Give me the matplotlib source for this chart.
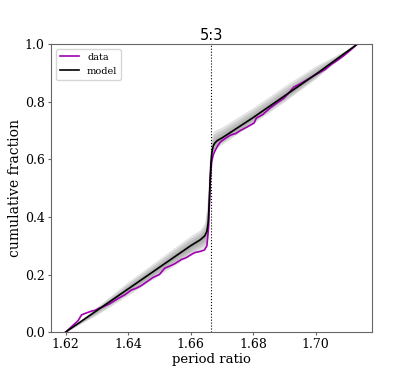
import numpy as np
import matplotlib.pyplot as plt

# data: observed cumulative distribution of period ratios
data_x = [1.6200, 1.6225, 1.6240, 1.6251, 1.6265, 1.6283, 1.6295, 1.6305, 1.6320,
          1.6340, 1.6355, 1.6370, 1.6390, 1.6410, 1.6425, 1.6440, 1.6460, 1.6480,
          1.6500, 1.6517, 1.6535, 1.6550, 1.6570, 1.6585, 1.6600, 1.6613, 1.6630,
          1.6644, 1.6652, 1.6657, 1.6660, 1.6663, 1.6667, 1.6672, 1.6679, 1.6687,
          1.6695, 1.6710, 1.6727, 1.6745, 1.6759, 1.6780, 1.6803, 1.6810, 1.6830,
          1.6854, 1.6875, 1.6898, 1.6915, 1.6930, 1.6950, 1.6970, 1.6990, 1.7010,
          1.7030, 1.7050, 1.7070, 1.7090, 1.7110, 1.7133]
data_y = [0.000, 0.025, 0.040, 0.060, 0.066, 0.073, 0.076, 0.082, 0.088,
          0.098, 0.108, 0.118, 0.130, 0.146, 0.152, 0.160, 0.175, 0.190,
          0.200, 0.222, 0.230, 0.238, 0.252, 0.258, 0.268, 0.276, 0.280,
          0.285, 0.300, 0.360, 0.450, 0.538, 0.590, 0.615, 0.632, 0.648,
          0.660, 0.672, 0.684, 0.690, 0.700, 0.712, 0.726, 0.743, 0.755,
          0.778, 0.795, 0.812, 0.832, 0.851, 0.862, 0.875, 0.888, 0.900,
          0.912, 0.930, 0.944, 0.960, 0.978, 1.000]

# model: median curve and spread of model realisations
model_x = [1.6200, 1.6300, 1.6400, 1.6500, 1.6600, 1.6630, 1.6645, 1.6652,
           1.6656, 1.6659, 1.6662, 1.6665, 1.6668, 1.6672, 1.6676, 1.6685,
           1.6700, 1.6800, 1.6900, 1.7000, 1.7133]
model_y = [0.000, 0.075, 0.150, 0.225, 0.300, 0.320, 0.334, 0.350,
           0.380, 0.440, 0.520, 0.590, 0.625, 0.645, 0.655, 0.665,
           0.674, 0.745, 0.820, 0.895, 1.000]
band_lo = [0.000, 0.060, 0.128, 0.198, 0.268, 0.285, 0.295, 0.305,
           0.330, 0.380, 0.460, 0.540, 0.590, 0.615, 0.630, 0.640,
           0.652, 0.725, 0.800, 0.880, 1.000]
band_hi = [0.000, 0.088, 0.175, 0.255, 0.335, 0.355, 0.380, 0.440,
           0.520, 0.585, 0.630, 0.665, 0.685, 0.695, 0.700, 0.705,
           0.712, 0.780, 0.855, 0.925, 1.000]

resonance = 5 / 3

plt.rcParams['font.family'] = 'DejaVu Serif'
fig, ax = plt.subplots(figsize=(4.15, 3.74), dpi=100)
fig.subplots_adjust(left=0.123, right=0.896, top=0.882, bottom=0.112)

mx = np.array(model_x)
my = np.array(model_y)
lo = np.array(band_lo)
hi = np.array(band_hi)
for f in [1.0, 0.75, 0.5, 0.25]:
    ax.fill_between(mx, my - f * (my - lo), my + f * (hi - my),
                    color='0.45', alpha=0.2, lw=0)

ax.plot(data_x, data_y, color='#a000b0', lw=1.2, label='data')
ax.plot(model_x, model_y, color='black', lw=1.2, label='model')
ax.axvline(resonance, color='black', ls=':', lw=0.8)
ax.text(resonance, 1.005, '5:3', ha='center', va='bottom', fontsize=10.5,
        family='DejaVu Sans', transform=ax.get_xaxis_transform())

ax.set_ylim(0, 1)
ax.set_xticks([1.62, 1.64, 1.66, 1.68, 1.70])
ax.tick_params(labelsize=9, length=2.5, pad=2, color='0.4')
ax.set_xlabel('period ratio', fontsize=9.5, labelpad=1)
ax.set_ylabel('cumulative fraction', fontsize=10, labelpad=2)
for s in ax.spines.values():
    s.set_color('0.4')
ax.legend(loc='upper left', fontsize=7)

plt.savefig('out.png')
